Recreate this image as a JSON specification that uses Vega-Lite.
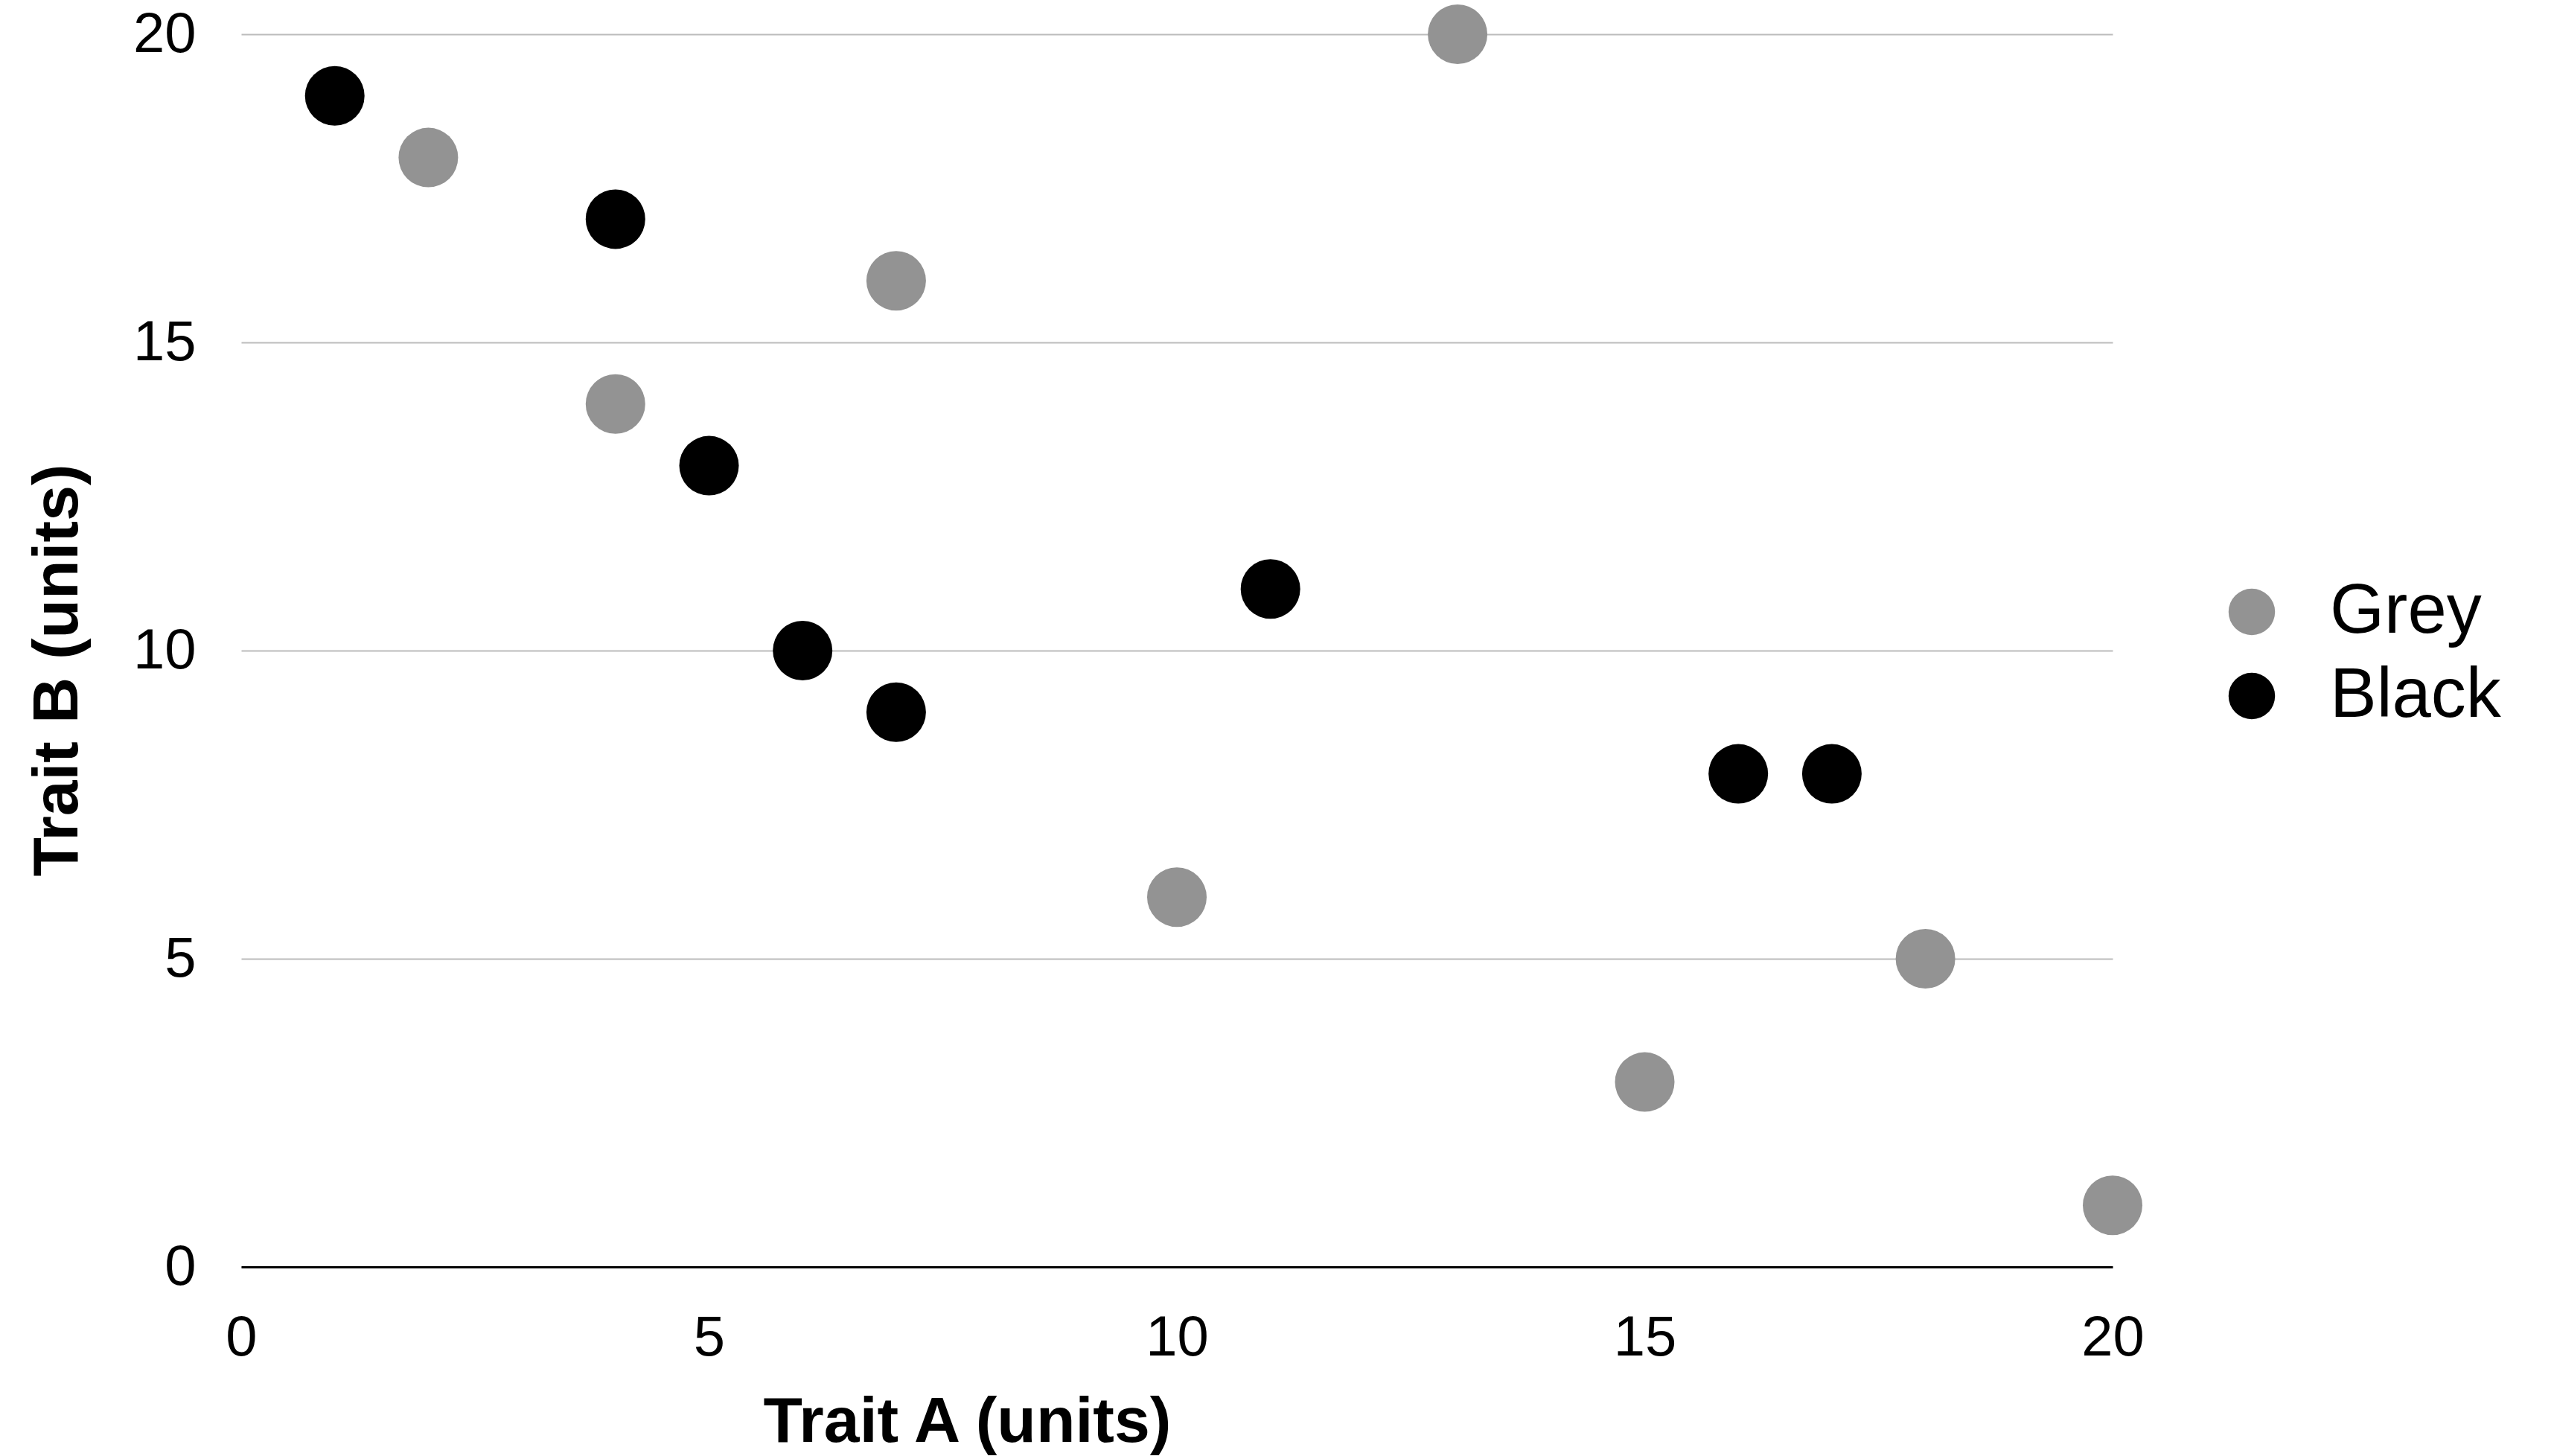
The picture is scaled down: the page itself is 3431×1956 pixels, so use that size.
{
  "$schema": "https://vega.github.io/schema/vega-lite/v6.json",
  "autosize": {"type": "none"},
  "width": 2514,
  "height": 1656,
  "padding": {"left": 324, "top": 46, "right": 593, "bottom": 254},
  "background": "white",
  "config": {
    "font": "Liberation Sans",
    "view": {"stroke": null}
  },
  "data": {
    "values": [
      {"a": 2, "b": 18, "group": "Grey"},
      {"a": 4, "b": 14, "group": "Grey"},
      {"a": 7, "b": 16, "group": "Grey"},
      {"a": 13, "b": 20, "group": "Grey"},
      {"a": 10, "b": 6, "group": "Grey"},
      {"a": 15, "b": 3, "group": "Grey"},
      {"a": 18, "b": 5, "group": "Grey"},
      {"a": 20, "b": 1, "group": "Grey"},
      {"a": 1, "b": 19, "group": "Black"},
      {"a": 4, "b": 17, "group": "Black"},
      {"a": 5, "b": 13, "group": "Black"},
      {"a": 6, "b": 10, "group": "Black"},
      {"a": 7, "b": 9, "group": "Black"},
      {"a": 11, "b": 11, "group": "Black"},
      {"a": 16, "b": 8, "group": "Black"},
      {"a": 17, "b": 8, "group": "Black"}
    ]
  },
  "mark": {"type": "circle", "size": 6400, "opacity": 1},
  "encoding": {
    "x": {
      "field": "a", "type": "quantitative",
      "scale": {"domain": [0, 20], "nice": false, "zero": true},
      "axis": {
        "title": "Trait A (units)",
        "values": [0, 5, 10, 15, 20],
        "grid": false,
        "ticks": false,
        "domain": true,
        "domainColor": "#000000",
        "domainWidth": 3,
        "labelFontSize": 76,
        "labelColor": "#000000",
        "labelPadding": 58,
        "labelFlush": false,
        "titleFontSize": 86,
        "titleFontWeight": "bold",
        "titleColor": "#000000",
        "titleX": 975,
        "titleY": 208,
        "titleBaseline": "middle",
        "titleAlign": "center",
        "titleAnchor": null
      }
    },
    "y": {
      "field": "b", "type": "quantitative",
      "scale": {"domain": [0, 20], "nice": false},
      "axis": {
        "title": "Trait B (units)",
        "values": [0, 5, 10, 15, 20],
        "grid": true,
        "gridColor": "#bcbcbc",
        "gridWidth": 2,
        "ticks": false,
        "domain": false,
        "labelFontSize": 76,
        "labelColor": "#000000",
        "labelPadding": 61,
        "labelFlush": false,
        "titleFontSize": 86,
        "titleFontWeight": "bold",
        "titleColor": "#000000",
        "titleAngle": -90,
        "titleX": -247,
        "titleY": 854,
        "titleBaseline": "middle",
        "titleAlign": "center",
        "titleAnchor": null
      }
    },
    "color": {
      "field": "group", "type": "nominal",
      "scale": {"domain": ["Grey", "Black"], "range": ["#939393", "#000000"]},
      "legend": {
        "title": null,
        "orient": "none",
        "legendX": 2654,
        "legendY": 729,
        "symbolType": "circle",
        "symbolSize": 3900,
        "symbolOpacity": 1,
        "symbolStrokeWidth": 0,
        "labelFontSize": 94,
        "labelLimit": 1000,
        "labelColor": "#000000",
        "labelOffset": 58,
        "rowPadding": 19,
        "padding": 0
      }
    }
  }
}
